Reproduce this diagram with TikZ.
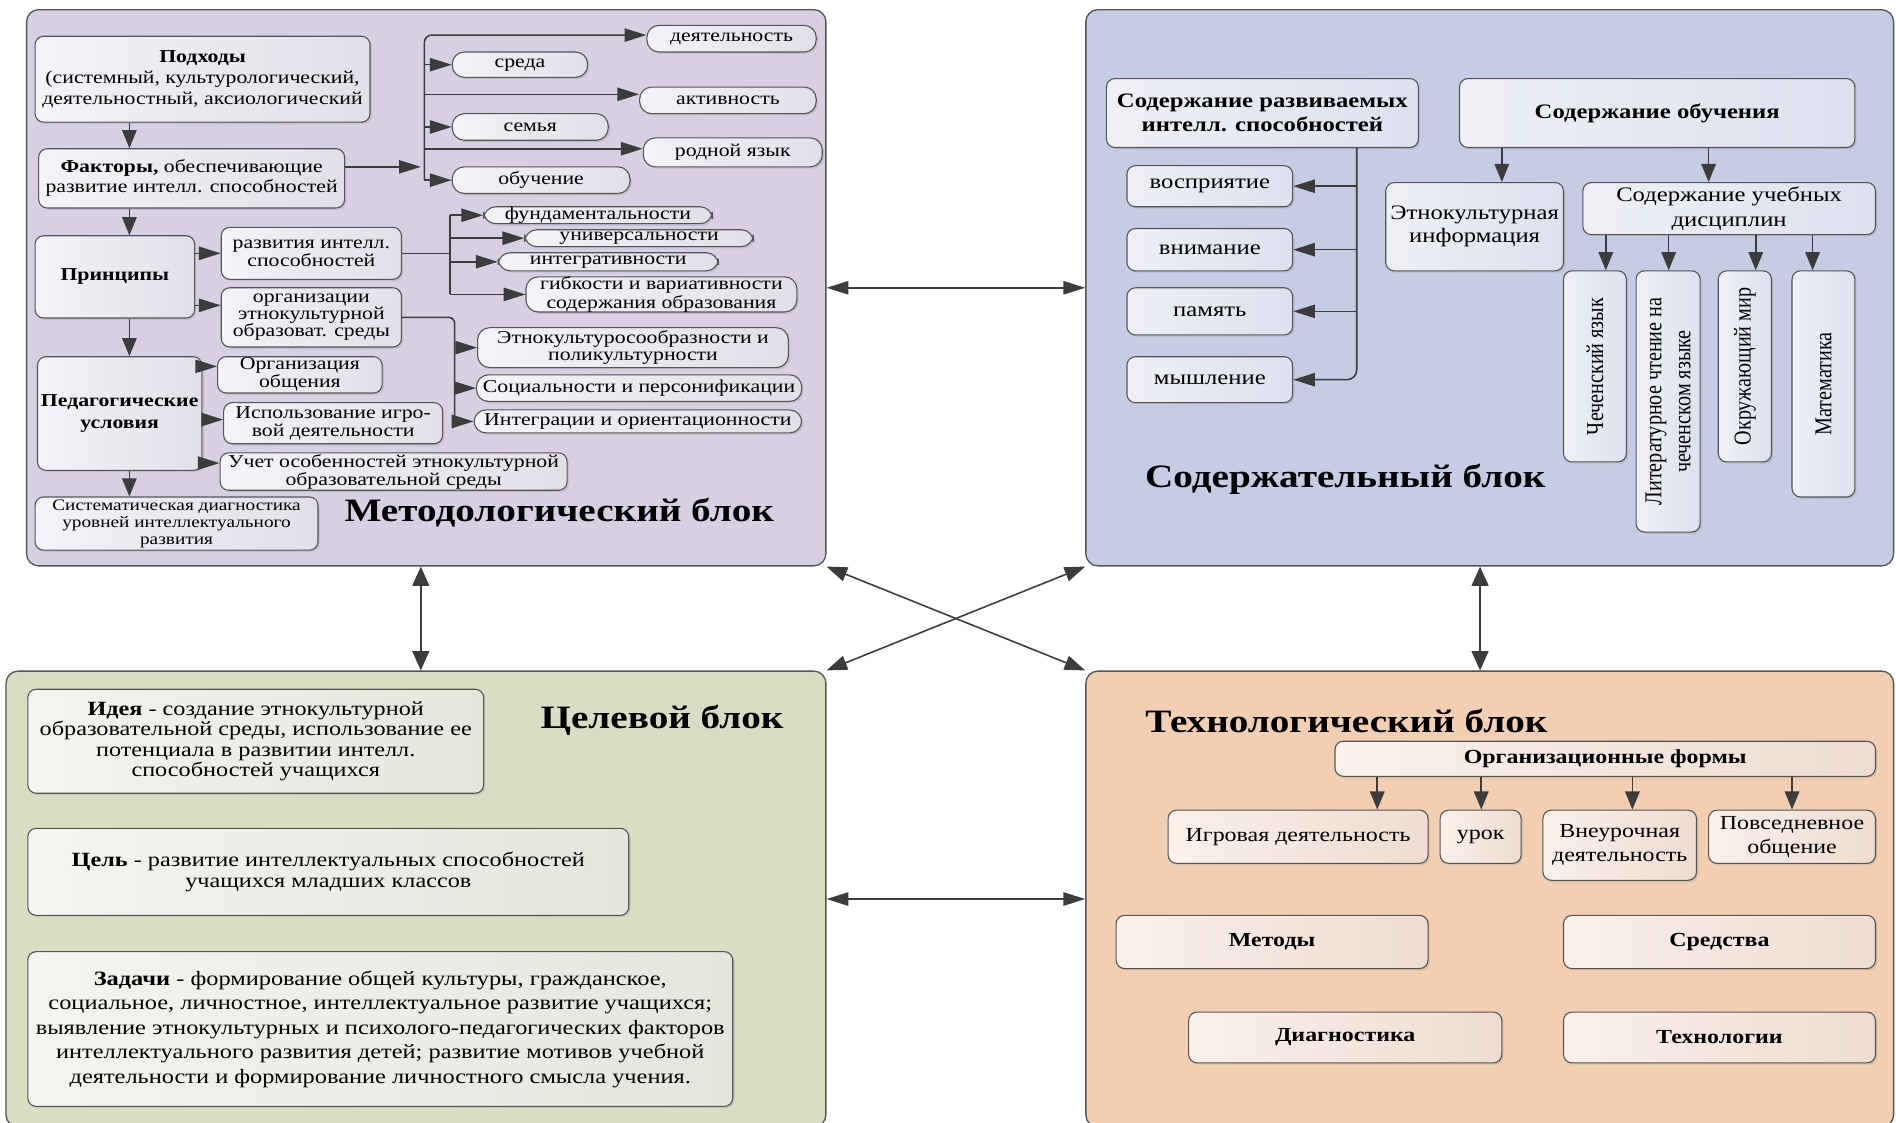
\documentclass[tikz,border=0pt]{standalone}
\usepackage{fontspec}
\setmainfont{Liberation Serif}[FakeStretch=1.2]
\newfontfamily\fv{Liberation Serif}[FakeStretch=0.833]
\usetikzlibrary{arrows.meta,shadows}
\definecolor{lnc}{HTML}{3C3C3C}
\definecolor{bdc}{HTML}{555555}
\definecolor{bA}{HTML}{D6D0E2}
\definecolor{bB}{HTML}{C6CCE4}
\definecolor{bC}{HTML}{D8DEC3}
\definecolor{bD}{HTML}{F2CFB2}
\definecolor{xA1}{HTML}{F4F3F7}
\definecolor{xA2}{HTML}{E2DFE9}
\definecolor{xB1}{HTML}{EFF0F6}
\definecolor{xB2}{HTML}{DDE1EE}
\definecolor{xC1}{HTML}{F4F4F0}
\definecolor{xC2}{HTML}{E4E6DD}
\definecolor{xD1}{HTML}{FAF1EB}
\definecolor{xD2}{HTML}{EEDCD1}
\newcommand\myfs[2]{\fontsize{#1}{#2}\selectfont}
\tikzset{
 blk/.style={draw=bdc, line width=1.1pt, rounded corners=10pt, inner sep=0pt},
 bx/.style={draw=bdc, line width=0.9pt, rounded corners=7pt, inner sep=1pt, align=center,
   drop shadow={shadow xshift=1.5pt, shadow yshift=-1.5pt, opacity=0.22}},
 bxA/.style={bx, left color=xA1, right color=xA2, font=\myfs{15}{14}},
 bxB/.style={bx, left color=xB1, right color=xB2, font=\myfs{17}{19}},
 bxC/.style={bx, left color=xC1, right color=xC2, font=\myfs{16.7}{17}},
 bxD/.style={bx, left color=xD1, right color=xD2, font=\myfs{16.5}{20}},
 pill/.style={rounded corners=10pt},
 ln/.style={draw=lnc, line width=1.3pt},
 arh/.style={ln, -{Triangle[length=18pt,width=11pt]}},
 arv/.style={ln, -{Triangle[length=15pt,width=12pt]}},
 dbh/.style={ln, {Triangle[length=18pt,width=11pt]}-{Triangle[length=18pt,width=11pt]}},
 dbv/.style={ln, {Triangle[length=16pt,width=14pt]}-{Triangle[length=16pt,width=14pt]}},
 dbd/.style={ln, {Triangle[length=17pt,width=12pt]}-{Triangle[length=17pt,width=12pt]}},
 ttl/.style={font=\bfseries\myfs{27}{30}, inner sep=0pt},
 vt/.style={rotate=90, font=\fv\myfs{20}{24}, align=center, inner sep=0pt},
}
\begin{document}
\begin{tikzpicture}[x=1pt,y=-1pt]
\useasboundingbox (0,0) rectangle (1568,928);
\fill[white] (0,0) rectangle (1568,928);

% ---------- blocks ----------
\node[blk, fill=bA, minimum width=661pt, minimum height=460pt] (B1) at (352.5,238) {};
\node[blk, fill=bB, minimum width=668pt, minimum height=460pt] (B2) at (1232,238) {};
\node[blk, fill=bC, minimum width=678pt, minimum height=377pt] (B3) at (344,743.5) {};
\node[blk, fill=bD, minimum width=668pt, minimum height=377pt] (B4) at (1232,743.5) {};

% ---------- inter-block connectors ----------
\coordinate (vl) at (348,0);
\coordinate (vr) at (1224,0);
\draw[dbh] (B1.east) -- (B2.west);
\draw[dbh] (B3.east) -- (B4.west);
\draw[dbv] (B1.south -| vl) -- (B3.north -| vl);
\draw[dbv] (B2.south -| vr) -- (B4.north -| vr);
\draw[dbd] (B1.south east) -- (B4.north west);
\draw[dbd] (B3.north east) -- (B2.south west);

% ---------- titles ----------
\node[ttl] (t1) at (462.5,424) {Методологический блок};
\node[ttl] (t2) at (1112.5,396) {Содержательный блок};
\node[ttl] (t3) at (547.5,596) {Целевой блок};
\node[ttl] (t4) at (1113.5,596) {Технологический блок};

% ---------- block 1 ----------
\node[bxA, minimum width=277pt, minimum height=71pt, font=\myfs{15}{17.5}] (podh) at (167.5,65.5)
  {\textbf{Подходы}\\(системный, культурологический,\\деятельностный, аксиологический};
\node[bxA, minimum width=253pt, minimum height=49pt, font=\myfs{15}{16.5}] (fakt) at (158.5,147.5)
  {\textbf{Факторы,} обеспечивающие\\развитие интелл. способностей};
\node[bxA, minimum width=132pt, minimum height=68pt, font=\bfseries\myfs{15}{17}] (princ) at (95,229) {Принципы};
\node[bxA, minimum width=149pt, minimum height=43pt, font=\myfs{15}{13}] (razv) at (257.5,209.5) {развития интелл.\\способностей};
\node[bxA, minimum width=149pt, minimum height=49pt, font=\myfs{15}{14}] (orgs) at (257.5,262.5) {организации\\этнокультурной\\образоват. среды};
\node[bxA, minimum width=136pt, minimum height=94pt, font=\bfseries\myfs{15}{18}] (ped) at (99,342) {Педагогические\\условия};
\node[bxA, minimum width=136pt, minimum height=30pt, font=\myfs{15}{13}] (orgob) at (248,310) {Организация\\общения};
\node[bxA, minimum width=181pt, minimum height=34pt, font=\myfs{15}{13}] (ispol) at (275.5,350) {Использование игро-\\вой деятельности};
\node[bxA, minimum width=287pt, minimum height=30pt, font=\myfs{15}{13}] (uchet) at (325.5,390) {Учет особенностей этнокультурной\\образовательной среды};
\node[bxA, minimum width=234pt, minimum height=44pt, font=\myfs{13.3}{14}] (diag) at (146,433) {Систематическая диагностика\\уровней интеллектуального\\развития};

\node[bxA, pill, minimum width=140pt, minimum height=22pt] (deyat) at (605,32) {деятельность};
\node[bxA, pill, minimum width=112pt, minimum height=21pt] (sreda) at (430,53.5) {среда};
\node[bxA, pill, minimum width=146pt, minimum height=22pt] (aktiv) at (602,83) {активность};
\node[bxA, pill, minimum width=129pt, minimum height=22pt] (semya) at (438.5,105) {семья};
\node[bxA, pill, minimum width=148pt, minimum height=24pt] (rodn) at (606,126) {родной язык};
\node[bxA, pill, minimum width=147pt, minimum height=22pt] (obuch) at (447.5,149) {обучение};

\node[bxA, pill, minimum width=189pt, minimum height=14pt, inner sep=0pt] (fund) at (494.5,178) {фундаментальности};
\node[bxA, pill, minimum width=189pt, minimum height=14pt, inner sep=0pt] (univ) at (528.5,197) {универсальности};
\node[bxA, pill, minimum width=182pt, minimum height=15pt, inner sep=0pt] (integr) at (503,216.5) {интегративности};
\node[bxA, pill, minimum width=224pt, minimum height=29pt, inner sep=0pt, font=\myfs{15}{13}] (gibk) at (547,243.5) {гибкости и вариативности\\содержания образования};

\node[bxA, pill, minimum width=257pt, minimum height=33pt, font=\myfs{15}{14}] (etnok) at (523.5,287.5) {Этнокультуросообразности и\\поликультурности};
\node[bxA, pill, minimum width=269pt, minimum height=22pt] (soc) at (528.5,321) {Социальности и персонификации};
\node[bxA, pill, minimum width=271pt, minimum height=19pt, inner sep=0pt] (integ) at (527.5,348.5) {Интеграции и ориентационности};

% block 1 connectors
\coordinate (cA) at (107,0);
\draw[arv] (podh.south -| cA) -- (fakt.north -| cA);
\draw[arv] (fakt.south -| cA) -- (princ.north -| cA);
\draw[arv] (princ.south -| cA) -- (ped.north -| cA);
\draw[arv] (ped.south -| cA) -- (diag.north -| cA);

\coordinate (fs) at ([yshift=9.5pt]fakt.east);
\coordinate (fj) at (348,138);
\draw[arh] (fs) -- (fj);
\coordinate (vx1) at (351,0);
\coordinate (dy) at ([yshift=3pt]deyat.west);
\coordinate (ak) at ([yshift=5pt]aktiv.west);
\coordinate (rd) at ([yshift=3pt]rodn.west);
\draw[arh, rounded corners=6pt] (vx1 |- obuch.west) |- (dy);
\draw[arh] (vx1 |- obuch.west) -- (obuch.west);
\draw[arh] (vx1 |- sreda.west) -- (sreda.west);
\draw[arh] (vx1 |- semya.west) -- (semya.west);
\draw[arh] (ak -| vx1) -- (ak);
\draw[arh] (rd -| vx1) -- (rd);

\draw[arh] (princ.east |- razv.west) -- (razv.west);
\coordinate (og) at ([yshift=10pt]orgs.west);
\draw[arh] (og -| princ.east) -- (og);

\coordinate (pa) at ([yshift=7pt]orgob.west);
\coordinate (pb) at ([yshift=3pt]ispol.west);
\coordinate (pc) at ([yshift=7pt]uchet.west);
\draw[arh] (pa -| ped.east) -- (pa);
\draw[arh] (pb -| ped.east) -- (pb);
\draw[arh] (pc -| ped.east) -- (pc);

\coordinate (vx2) at (372,0);
\draw[ln] (razv.east) -- (razv.east -| vx2);
\draw[ln] (vx2 |- fund.west) -- (vx2 |- gibk.west);
\draw[arh] (vx2 |- fund.west) -- (fund.west);
\draw[arh] (vx2 |- univ.west) -- (univ.west);
\draw[arh] (vx2 |- integr.west) -- (integr.west);
\draw[arh] (vx2 |- gibk.west) -- (gibk.west);

\coordinate (vx3) at (376,0);
\draw[arh, rounded corners=5pt] (orgs.east) -| (vx3 |- integ.west) -- (integ.west);
\draw[arh] (vx3 |- etnok.west) -- (etnok.west);
\draw[arh] (vx3 |- soc.west) -- (soc.west);

% ---------- block 2 ----------
\node[bxB, minimum width=258pt, minimum height=57pt, font=\bfseries\myfs{17}{20}] (sodr) at (1044,93.5) {Содержание развиваемых\\интелл. способностей};
\node[bxB, minimum width=137pt, minimum height=34pt] (vospr) at (1000.5,154) {восприятие};
\node[bxB, minimum width=137pt, minimum height=35pt] (vnim) at (1000.5,206.5) {внимание};
\node[bxB, minimum width=137pt, minimum height=39pt] (pam) at (1000.5,257.5) {память};
\node[bxB, minimum width=137pt, minimum height=38pt] (mysh) at (1000.5,314) {мышление};

\node[bxB, minimum width=327pt, minimum height=57pt, font=\bfseries\myfs{17}{20}] (sobuch) at (1370.5,93.5) {Содержание обучения};
\node[bxB, minimum width=147pt, minimum height=73pt] (etno) at (1219.5,187.5) {Этнокультурная\\информация};
\node[bxB, minimum width=242pt, minimum height=43pt, font=\myfs{17}{21}] (disc) at (1430,172.5) {Содержание учебных\\дисциплин};

\node[bxB, minimum width=52pt, minimum height=158pt] (chech) at (1319,303) {};
\node[bxB, minimum width=53pt, minimum height=216pt] (lit) at (1379.5,332) {};
\node[bxB, minimum width=44pt, minimum height=158pt] (okr) at (1443,303) {};
\node[bxB, minimum width=52pt, minimum height=187pt] (mat) at (1508,317.5) {};
\node[vt] (chechT) at (chech.center) {Чеченский язык};
\node[vt] (litT) at (lit.center) {Литературное чтение на\\чеченском языке};
\node[vt] (okrT) at (okr.center) {Окружающий мир};
\node[vt] (matT) at (mat.center) {Математика};

\coordinate (vx4) at (1122,0);
\draw[arh, rounded corners=8pt] (sodr.south -| vx4) |- (mysh.east);
\draw[arh] (vx4 |- vospr.east) -- (vospr.east);
\draw[arh] (vx4 |- vnim.east) -- (vnim.east);
\draw[arh] (vx4 |- pam.east) -- (pam.east);

\coordinate (ex) at (1242,0);
\coordinate (dx) at (1413,0);
\draw[arv] (sobuch.south -| ex) -- (etno.north -| ex);
\draw[arv] (sobuch.south -| dx) -- (disc.north -| dx);
\coordinate (q1) at (1328,0);
\coordinate (q2) at (1380,0);
\coordinate (q3) at (1452,0);
\coordinate (q4) at (1499,0);
\draw[arv] (disc.south -| q1) -- (chech.north -| q1);
\draw[arv] (disc.south -| q2) -- (lit.north -| q2);
\draw[arv] (disc.south -| q3) -- (okr.north -| q3);
\draw[arv] (disc.south -| q4) -- (mat.north -| q4);

% ---------- block 3 ----------
\node[bxC, minimum width=377pt, minimum height=86pt] (ideya) at (211.5,613)
  {\textbf{Идея} - создание этнокультурной\\образовательной среды, использование ее\\потенциала в развитии интелл.\\способностей учащихся};
\node[bxC, minimum width=497pt, minimum height=72pt] (cel) at (271.5,721)
  {\textbf{Цель} - развитие интеллектуальных способностей\\учащихся младших классов};
\node[bxC, minimum width=583pt, minimum height=128pt, font=\myfs{16.8}{20.3}] (zad) at (314.5,851)
  {\textbf{Задачи} - формирование общей культуры, гражданское,\\социальное, личностное, интеллектуальное развитие учащихся;\\выявление этнокультурных и психолого-педагогических факторов\\интеллектуального развития детей; развитие мотивов учебной\\деятельности и формирование личностного смысла учения.};

% ---------- block 4 ----------
\node[bxD, minimum width=447pt, minimum height=29pt, font=\bfseries\myfs{16.5}{18}] (org) at (1327.5,627.5) {Организационные формы};
\node[bxD, minimum width=215pt, minimum height=44pt] (igr) at (1073.5,692) {Игровая деятельность};
\node[bxD, minimum width=67pt, minimum height=44pt] (urok) at (1224.5,692) {урок};
\node[bxD, minimum width=127pt, minimum height=58pt] (vneur) at (1339.5,699) {Внеурочная\\деятельность};
\node[bxD, minimum width=138pt, minimum height=44pt] (povs) at (1482,692) {Повседневное\\общение};
\node[bxD, minimum width=258pt, minimum height=44pt, font=\bfseries\myfs{16.5}{20}] (metody) at (1052,779) {Методы};
\node[bxD, minimum width=258pt, minimum height=44pt, font=\bfseries\myfs{16.5}{20}] (sredstva) at (1422,779) {Средства};
\node[bxD, minimum width=259pt, minimum height=42pt, font=\bfseries\myfs{16.5}{20}] (diagn) at (1112.5,858) {Диагностика};
\node[bxD, minimum width=258pt, minimum height=42pt, font=\bfseries\myfs{16.5}{20}] (tehn) at (1422,858) {Технологии};

\coordinate (k1) at (1139,0);
\coordinate (k2) at (1225,0);
\coordinate (k3) at (1350,0);
\coordinate (k4) at (1482,0);
\draw[arv] (org.south -| k1) -- (igr.north -| k1);
\draw[arv] (org.south -| k2) -- (urok.north -| k2);
\draw[arv] (org.south -| k3) -- (vneur.north -| k3);
\draw[arv] (org.south -| k4) -- (povs.north -| k4);
\end{tikzpicture}
\end{document}
